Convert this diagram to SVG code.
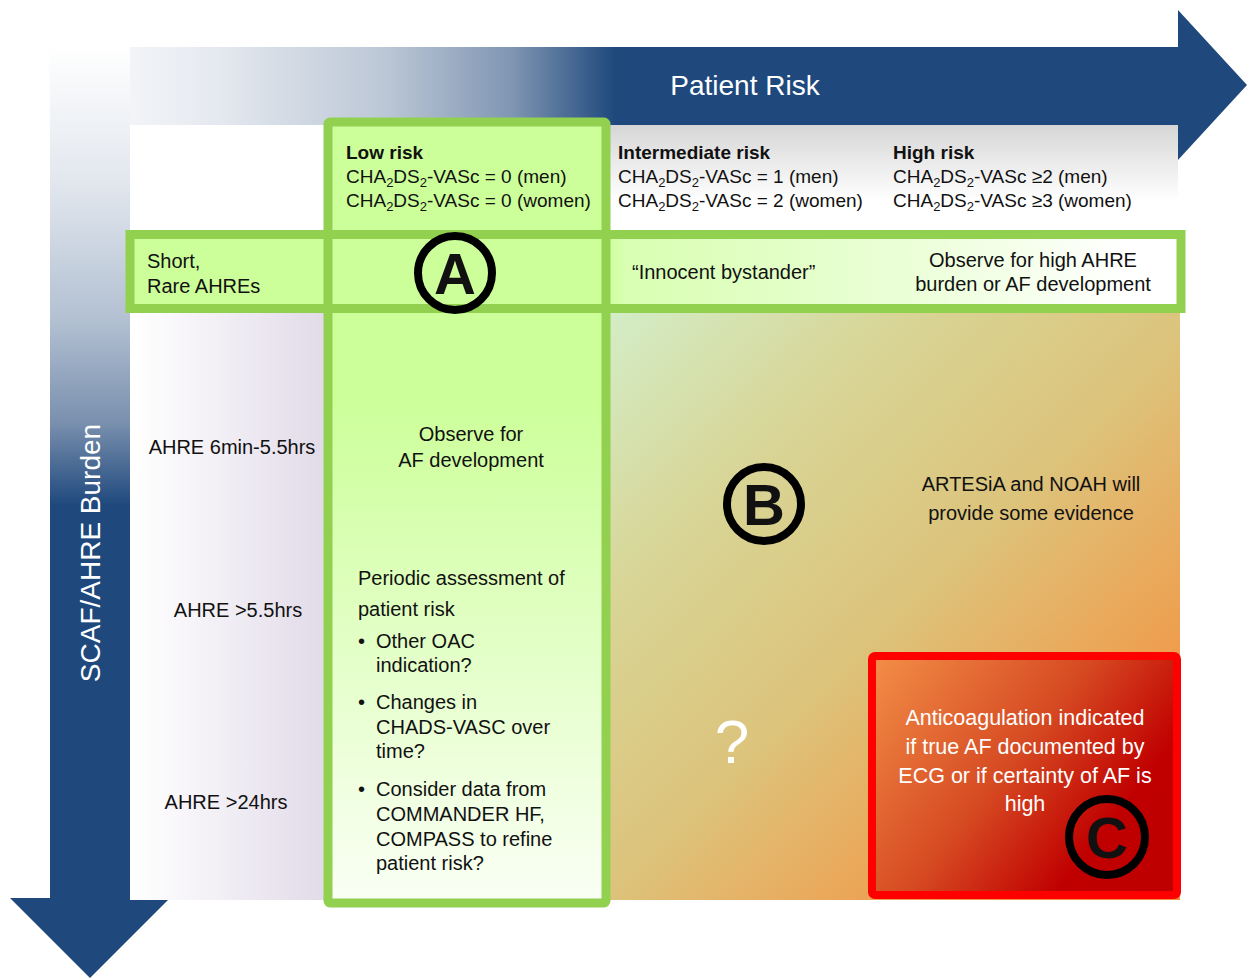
<svg xmlns="http://www.w3.org/2000/svg" width="1255" height="980" viewBox="0 0 1255 980">
<defs>
<linearGradient id="gH" gradientUnits="userSpaceOnUse" x1="40" y1="0" x2="615" y2="0">
<stop offset="0" stop-color="#ffffff"/><stop offset="0.3" stop-color="#e6eaf0"/><stop offset="0.6" stop-color="#bcc7d6"/><stop offset="0.82" stop-color="#8096b3"/><stop offset="1" stop-color="#1f497d"/>
</linearGradient>
<linearGradient id="gV" gradientUnits="userSpaceOnUse" x1="0" y1="45" x2="0" y2="505">
<stop offset="0" stop-color="#ffffff"/><stop offset="0.3" stop-color="#e2e7ee"/><stop offset="0.6" stop-color="#b2c0d2"/><stop offset="0.82" stop-color="#7a90ae"/><stop offset="1" stop-color="#1f497d"/>
</linearGradient>
<linearGradient id="gHead" x1="0" y1="0" x2="0" y2="1">
<stop offset="0" stop-color="#d6d6d6"/><stop offset="0.7" stop-color="#ffffff"/><stop offset="1" stop-color="#ffffff"/>
</linearGradient>
<linearGradient id="gCol" gradientUnits="userSpaceOnUse" x1="0" y1="122" x2="0" y2="903">
<stop offset="0" stop-color="#ccff99"/><stop offset="0.35" stop-color="#ccff99"/><stop offset="1" stop-color="#fafff5"/>
</linearGradient>
<linearGradient id="gRow" gradientUnits="userSpaceOnUse" x1="130" y1="0" x2="1181" y2="0">
<stop offset="0" stop-color="#ccff99"/><stop offset="0.45" stop-color="#ccff99"/><stop offset="0.47" stop-color="#d8ffb2"/><stop offset="0.75" stop-color="#ecffd9"/><stop offset="0.95" stop-color="#ffffff"/>
</linearGradient>
<linearGradient id="gLeft" gradientUnits="userSpaceOnUse" x1="134" y1="0" x2="324" y2="0">
<stop offset="0" stop-color="#ffffff"/><stop offset="1" stop-color="#e2dbe9"/>
</linearGradient>
<linearGradient id="gB" gradientUnits="userSpaceOnUse" x1="611" y1="313" x2="1180" y2="900">
<stop offset="0" stop-color="#d3edc6"/><stop offset="0.25" stop-color="#d8d596"/><stop offset="0.5" stop-color="#dcc47c"/><stop offset="0.7" stop-color="#eaa85a"/><stop offset="0.85" stop-color="#f39442"/><stop offset="1" stop-color="#f58c38"/>
</linearGradient>
<linearGradient id="gC" gradientUnits="userSpaceOnUse" x1="872" y1="656" x2="1177" y2="895">
<stop offset="0" stop-color="#f38f48"/><stop offset="0.45" stop-color="#d64a22"/><stop offset="0.75" stop-color="#c00000"/><stop offset="1" stop-color="#bf0000"/>
</linearGradient>
<style>
text{font-family:"Liberation Sans",Arial,sans-serif;fill:#111;}
.h{font-size:19px;}
.hb{font-size:19px;font-weight:bold;}
.t{font-size:20px;}
.sub{font-size:13px;}
.w{fill:#ffffff;}
.c{text-anchor:middle;}
.green{stroke:#92d050;stroke-width:9;}
.ring{fill:none;stroke:#000;stroke-width:8;}
.let{font-size:58px;font-weight:bold;text-anchor:middle;}
</style>
</defs>

<g id="axes">
<polygon id="risk-arrow" points="30,47 1178,47 1178,10 1247,85 1178,160 1178,125 30,125" fill="url(#gH)"/>
<polygon id="burden-arrow" points="50,45 130,45 130,898 170,898 90,978 10,898 50,898" fill="url(#gV)"/>
<text class="w c" x="745" y="95" style="font-size:28px">Patient Risk</text>
<text class="w c" x="0" y="0" style="font-size:28px" transform="translate(100,553) rotate(-90)">SCAF/AHRE Burden</text>
</g>

<g id="header">
<rect x="130" y="125" width="198" height="108" fill="#ffffff"/>
<rect x="606" y="125" width="572" height="108" fill="url(#gHead)"/>
</g>

<g id="label-column">
<rect x="130" y="309" width="198" height="591" fill="url(#gLeft)"/>
<text class="t c" x="232" y="454">AHRE 6min-5.5hrs</text>
<text class="t c" x="238" y="617">AHRE &gt;5.5hrs</text>
<text class="t c" x="226" y="809">AHRE &gt;24hrs</text>
</g>

<g id="region-b">
<rect x="606" y="309" width="574" height="591" fill="url(#gB)"/>
<circle class="ring" cx="764" cy="504" r="37"/>
<text class="let" x="764" y="525">B</text>
<text class="t c" x="1031" y="491">ARTESiA and NOAH will</text>
<text class="t c" x="1031" y="520">provide some evidence</text>
<text class="w c" x="732" y="763" style="font-size:62px">?</text>
</g>

<g id="low-risk-column">
<rect x="328" y="122" width="278" height="781" fill="url(#gCol)"/>
</g>

<g id="short-rare-row">
<rect class="green" x="130" y="234.5" width="1051" height="74" fill="url(#gRow)"/>
<text class="t" x="147" y="268">Short,</text>
<text class="t" x="147" y="293">Rare AHREs</text>
<text class="t" x="632" y="279">“Innocent bystander”</text>
<text class="t c" x="1033" y="267">Observe for high AHRE</text>
<text class="t c" x="1033" y="291">burden or AF development</text>
</g>

<g id="low-risk-border">
<rect class="green" x="328" y="122" width="278" height="781" fill="none" rx="2"/>
<text class="hb" x="346" y="159">Low risk</text>
<text class="h" x="346" y="183">CHA<tspan class="sub" dy="4">2</tspan><tspan dy="-4">DS</tspan><tspan class="sub" dy="4">2</tspan><tspan dy="-4">-VASc = 0 (men)</tspan></text>
<text class="h" x="346" y="207">CHA<tspan class="sub" dy="4">2</tspan><tspan dy="-4">DS</tspan><tspan class="sub" dy="4">2</tspan><tspan dy="-4">-VASc = 0 (women)</tspan></text>
<circle class="ring" cx="455" cy="273" r="37"/>
<text class="let" x="455" y="294">A</text>
<text class="t c" x="471" y="441">Observe for</text>
<text class="t c" x="471" y="467">AF development</text>
<text class="t" x="358" y="585">Periodic assessment of</text>
<text class="t" x="358" y="616">patient risk</text>
<text class="t" x="358" y="648">•</text>
<text class="t" x="376" y="648">Other OAC</text>
<text class="t" x="376" y="672">indication?</text>
<text class="t" x="358" y="709">•</text>
<text class="t" x="376" y="709">Changes in</text>
<text class="t" x="376" y="734">CHADS-VASC over</text>
<text class="t" x="376" y="758">time?</text>
<text class="t" x="358" y="796">•</text>
<text class="t" x="376" y="796">Consider data from</text>
<text class="t" x="376" y="821">COMMANDER HF,</text>
<text class="t" x="376" y="846">COMPASS to refine</text>
<text class="t" x="376" y="870">patient risk?</text>
</g>

<g id="intermediate-header">
<text class="hb" x="618" y="159">Intermediate risk</text>
<text class="h" x="618" y="183">CHA<tspan class="sub" dy="4">2</tspan><tspan dy="-4">DS</tspan><tspan class="sub" dy="4">2</tspan><tspan dy="-4">-VASc = 1 (men)</tspan></text>
<text class="h" x="618" y="207">CHA<tspan class="sub" dy="4">2</tspan><tspan dy="-4">DS</tspan><tspan class="sub" dy="4">2</tspan><tspan dy="-4">-VASc = 2 (women)</tspan></text>
</g>

<g id="high-header">
<text class="hb" x="893" y="159">High risk</text>
<text class="h" x="893" y="183">CHA<tspan class="sub" dy="4">2</tspan><tspan dy="-4">DS</tspan><tspan class="sub" dy="4">2</tspan><tspan dy="-4">-VASc ≥2 (men)</tspan></text>
<text class="h" x="893" y="207">CHA<tspan class="sub" dy="4">2</tspan><tspan dy="-4">DS</tspan><tspan class="sub" dy="4">2</tspan><tspan dy="-4">-VASc ≥3 (women)</tspan></text>
</g>

<g id="region-c">
<rect x="872" y="656" width="305" height="239" rx="3" fill="url(#gC)" stroke="#ff0000" stroke-width="8"/>
<text class="w c" x="1025" y="725" style="font-size:21.5px">Anticoagulation indicated</text>
<text class="w c" x="1025" y="754" style="font-size:21.5px">if true AF documented by</text>
<text class="w c" x="1025" y="783" style="font-size:21.5px">ECG or if certainty of AF is</text>
<text class="w c" x="1025" y="811" style="font-size:21.5px">high</text>
<circle class="ring" cx="1107" cy="837" r="38"/>
<text class="let" x="1107" y="858">C</text>
</g>
</svg>
